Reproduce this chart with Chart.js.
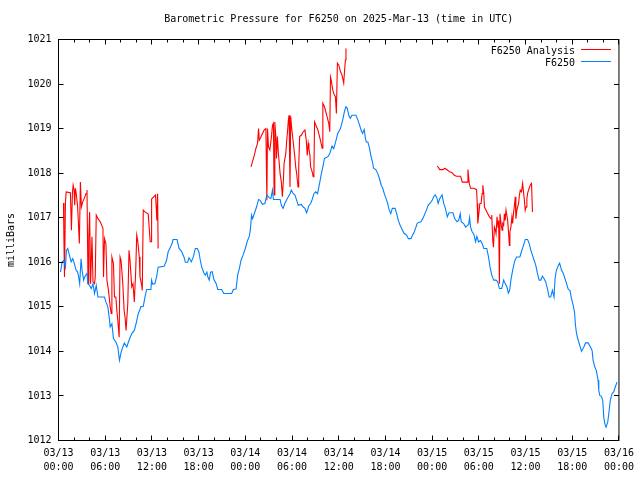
<!DOCTYPE html>
<html><head><meta charset="utf-8">
<script src="https://cdn.jsdelivr.net/npm/chart.js@4.4.1/dist/chart.umd.min.js"></script>
<style>html,body{margin:0;padding:0;background:#fff}canvas{display:block}</style>
</head><body>
<canvas id="c" width="640" height="480"></canvas>
<script>
// ---- DATA (hours since 2025-03-13 00:00 UTC, pressure in mb) ----
const blueHours = [0.26,0.47,0.68,0.89,1.02,1.19,1.40,1.62,1.83,2.04,2.26,2.46,2.59,2.72,2.90,3.03,3.23,3.36,3.66,3.79,4.00,4.21,4.43,4.63,4.85,5.07,5.91,6.09,6.34,6.51,6.64,6.86,7.06,7.37,7.62,7.83,8.04,8.26,8.46,8.77,9.06,9.41,9.74,9.96,10.25,10.47,
10.56,10.89,11.11,11.32,11.87,11.96,12.09,12.38,12.60,12.80,13.57,13.88,14.08,14.30,14.59,14.72,15.23,15.49,15.79,16.12,16.30,16.60,16.76,17.07,17.32,17.58,17.83,18.04,18.22,18.42,18.68,18.85,19.06,19.19,19.37,19.53,19.75,19.95,20.26,20.46,20.97,21.23,22.25,22.47,22.81,23.02,23.23,23.45,23.71,24.00,24.29,24.51,
24.64,24.80,24.93,25.15,25.44,25.70,25.91,26.21,26.52,26.77,27.06,27.28,27.49,27.61,28.47,28.63,28.85,29.07,29.40,29.74,29.91,30.17,30.38,30.60,30.80,31.19,31.44,31.66,31.88,32.17,32.39,32.59,32.81,33.03,33.28,33.54,33.74,33.96,34.17,34.60,34.85,35.14,35.36,35.66,35.87,36.22,36.51,
36.73,36.93,37.11,37.28,37.49,37.70,38.21,38.46,38.68,38.90,39.06,39.28,39.41,39.54,39.74,39.96,40.12,40.34,40.47,40.76,41.02,41.23,41.45,41.66,41.87,42.09,42.29,42.47,42.68,42.89,43.24,43.44,43.66,43.88,44.08,44.39,44.72,44.94,45.28,45.49,45.70,45.92,46.09,46.56,46.85,47.27,47.49,47.71,48.00,48.22,48.42,48.64,48.77,
48.98,49.28,49.49,49.70,49.95,50.17,50.68,50.90,51.19,51.41,51.61,51.74,52.05,52.30,52.69,52.81,52.94,53.15,53.36,53.58,53.74,53.96,54.22,54.42,54.64,55.02,55.24,55.44,55.66,55.91,56.21,56.43,56.64,56.94,57.19,57.41,57.61,57.79,57.96,58.12,58.34,58.63,58.85,59.27,59.53,59.74,59.96,60.26,60.47,
60.68,60.89,61.11,61.32,61.53,61.75,61.96,62.17,62.39,62.59,62.81,63.03,63.23,63.45,63.66,63.79,63.96,64.21,64.38,64.63,64.85,65.07,65.27,65.49,65.71,65.91,66.13,66.29,66.42,66.55,66.77,66.98,67.19,67.49,67.70,68.04,68.34,68.55,68.68,68.90,69.10,69.32,69.41,69.54,69.74,69.92,70.05,70.21,70.34,70.56,70.69,70.89,71.11,71.32,71.53,71.75];
const blueValues = [1015.78,1016.01,1016.04,1015.89,1016.27,1016.31,1016.16,1016.01,1016.08,1015.97,1015.82,1015.78,1015.67,1015.52,1016.08,1015.82,1015.60,1015.67,1015.75,1015.52,1015.48,1015.41,1015.52,1015.30,1015.48,1015.22,1015.22,1015.11,1015.00,1014.77,1014.55,1014.62,1014.29,1014.21,1014.10,1013.80,1013.98,1014.10,1014.19,1014.10,1014.25,1014.40,1014.47,1014.62,1014.85,1014.94,
1015.00,1015.01,1015.22,1015.39,1015.39,1015.60,1015.51,1015.52,1015.67,1015.89,1015.91,1016.04,1016.23,1016.31,1016.42,1016.51,1016.51,1016.31,1016.25,1016.12,1016.00,1016.00,1016.10,1016.01,1016.12,1016.31,1016.31,1016.23,1016.04,1015.88,1015.76,1015.71,1015.78,1015.67,1015.60,1015.78,1015.79,1015.62,1015.52,1015.39,1015.39,1015.30,1015.30,1015.39,1015.40,1015.71,1015.86,1016.04,1016.16,1016.31,1016.49,1016.58,
1016.72,1017.06,1016.98,1017.09,1017.24,1017.41,1017.39,1017.30,1017.32,1017.51,1017.45,1017.43,1017.62,1017.41,1017.41,1017.28,1017.21,1017.32,1017.43,1017.54,1017.62,1017.54,1017.51,1017.39,1017.28,1017.30,1017.24,1017.21,1017.11,1017.27,1017.32,1017.41,1017.54,1017.58,1017.54,1017.77,1017.96,1018.14,1018.33,1018.37,1018.44,1018.61,1018.55,1018.74,1018.89,1019.00,1019.19,
1019.38,1019.49,1019.45,1019.30,1019.23,1019.30,1019.30,1019.19,1019.08,1018.95,1018.89,1018.98,1018.80,1018.70,1018.70,1018.56,1018.40,1018.25,1018.11,1018.08,1017.99,1017.88,1017.73,1017.66,1017.53,1017.43,1017.32,1017.18,1017.09,1017.21,1017.21,1017.09,1016.94,1016.83,1016.76,1016.65,1016.61,1016.53,1016.53,1016.61,1016.68,1016.79,1016.88,1016.91,1017.00,1017.17,1017.28,1017.32,1017.39,1017.48,1017.51,1017.43,1017.32,
1017.43,1017.51,1017.32,1017.21,1017.02,1017.11,1017.11,1016.98,1016.91,1016.94,1017.09,1016.91,1016.87,1016.79,1016.85,1017.00,1016.79,1016.68,1016.63,1016.46,1016.58,1016.46,1016.49,1016.42,1016.31,1016.31,1016.12,1015.89,1015.71,1015.60,1015.60,1015.56,1015.41,1015.41,1015.60,1015.51,1015.45,1015.31,1015.37,1015.60,1015.82,1016.04,1016.12,1016.12,1016.27,1016.38,1016.51,1016.51,1016.42,
1016.27,1016.16,1016.04,1015.93,1015.75,1015.60,1015.60,1015.69,1015.63,1015.56,1015.41,1015.22,1015.22,1015.37,1015.22,1015.63,1015.82,1015.93,1015.98,1015.82,1015.75,1015.63,1015.52,1015.39,1015.37,1015.18,1015.03,1014.88,1014.58,1014.40,1014.25,1014.13,1014.00,1014.10,1014.19,1014.19,1014.10,1014.02,1013.80,1013.65,1013.57,1013.35,1013.12,1013.01,1012.99,1012.90,1012.52,1012.36,1012.30,1012.41,1012.60,1012.90,1013.05,1013.09,1013.20,1013.31];

const red1Hours = [0.64,0.70,0.77,0.89,0.98,1.53,1.66,1.79,1.88,2.00,2.08,2.17,2.30,2.46,2.68,2.81,2.94,3.10,3.32,3.54,3.66,3.79,3.89,4.00,4.12,4.30,4.43,4.63,4.72,4.85,5.07,5.36,5.71,5.78,5.91,6.09,6.22,6.42,6.64,6.77,6.86,7.06,7.19,7.37,7.49,7.62,7.79,7.91,8.04,8.26,8.43,8.55,8.68,8.90,9.06,9.19,9.41,9.57,9.74,9.92,10.05,10.17,10.38,10.47,10.69,10.76,10.89,11.11,11.53,11.66,11.78,11.90,11.96,12.29,12.47,12.64,12.73,12.80];
const red1Values = [1017.33,1016.46,1015.67,1017.32,1017.58,1017.56,1016.72,1017.56,1017.73,1017.62,1017.28,1017.66,1017.51,1017.24,1016.42,1017.80,1017.24,1017.35,1017.44,1017.54,1017.62,1015.52,1016.57,1017.13,1015.52,1016.57,1015.56,1015.52,1015.67,1017.06,1016.98,1016.91,1016.76,1015.67,1016.53,1016.42,1015.60,1015.37,1015.00,1014.85,1016.12,1015.97,1015.22,1015.22,1014.92,1014.70,1014.32,1016.12,1016.04,1015.52,1014.92,1014.77,1014.47,1015.07,1016.27,1016.04,1015.45,1015.52,1015.11,1015.82,1016.61,1016.49,1016.12,1015.67,1015.48,1015.37,1017.17,1017.13,1017.08,1016.76,1016.46,1016.46,1017.42,1017.48,1017.51,1016.94,1017.54,1016.31];

const red2Hours = [24.73,25.15,25.37,25.57,25.70,25.79,25.91,26.21,26.43,26.64,26.77,26.85,26.98,27.15,27.36,27.49,27.61,27.70,27.79,27.92,28.00,28.12,28.25,28.47,28.63,28.76,28.89,28.98,29.20,29.32,29.40,29.53,29.62,29.74,29.83,29.96,30.13,30.34,30.47,30.60,30.68,30.77,30.86,30.98,31.19,31.44,31.66,31.83,31.96,32.08,32.17,32.30,32.39,32.59,32.72,32.81,32.90,33.15,33.32,33.54,33.74,33.87,33.96,34.17,34.50,34.72,34.85,34.94,35.04,35.23,35.36,35.58,35.70,35.83,36.00,36.22,36.42,36.64,36.77,36.86,36.93];
const red2Values = [1018.14,1018.40,1018.56,1018.67,1019.00,1018.74,1018.78,1018.89,1018.97,1019.00,1017.39,1019.00,1018.59,1018.52,1018.82,1019.08,1019.12,1017.51,1019.15,1018.82,1018.33,1018.82,1018.44,1017.99,1017.80,1017.47,1017.84,1018.22,1018.44,1018.74,1018.89,1019.19,1019.30,1017.69,1019.27,1019.00,1018.74,1018.40,1018.14,1017.99,1017.84,1017.69,1018.14,1018.82,1018.85,1018.93,1018.97,1018.74,1018.40,1018.67,1018.56,1018.40,1018.14,1018.03,1017.92,1018.03,1019.15,1019.04,1018.97,1018.82,1018.67,1018.56,1019.57,1019.49,1019.27,1019.12,1018.93,1020.16,1020.09,1019.87,1019.79,1019.71,1019.34,1020.47,1020.43,1020.28,1020.20,1020.02,1020.35,1020.54,1020.80];

const red3Hours = [48.68,48.98,49.40,49.62,49.95,50.26,50.55,50.81,51.10,51.66,51.87,52.51,52.60,52.69,52.77,52.94,53.36,53.71,53.79,53.87,54.00,54.13,54.29,54.42,54.51,54.64,54.72,54.93,55.15,55.36,55.57,55.66,55.79,55.88,56.00,56.13,56.21,56.34,56.47,56.55,56.64,56.72,56.85,56.98,57.07,57.19,57.28,57.38,57.49,57.61,57.70,57.83,57.92,57.99,58.12,58.25,58.34,58.47,58.55,58.68,58.76,58.89,58.98,59.11,59.19,59.32,59.49,59.62,59.74,59.83,59.96,60.06,60.17,60.26,60.38,60.47,60.60,60.77,60.89];
const red3Values = [1018.16,1018.08,1018.08,1018.11,1018.07,1018.03,1018.01,1017.96,1017.93,1017.93,1017.80,1017.80,1018.08,1017.92,1017.77,1017.66,1017.66,1017.63,1017.32,1016.87,1017.09,1017.32,1017.32,1017.54,1017.73,1017.54,1017.24,1017.17,1017.09,1017.02,1016.98,1017.06,1016.49,1016.34,1016.79,1016.72,1016.64,1017.02,1016.79,1016.94,1015.52,1017.09,1016.87,1016.72,1016.87,1016.83,1017.09,1016.94,1017.17,1017.17,1016.94,1016.64,1016.38,1016.68,1016.79,1017.02,1016.87,1017.13,1017.24,1017.47,1016.98,1017.17,1017.24,1017.32,1017.47,1017.62,1017.58,1017.77,1017.58,1017.43,1017.17,1017.24,1017.43,1017.54,1017.62,1017.66,1017.73,1017.77,1017.13];

const xTickDays  = ['03/13','03/13','03/13','03/13','03/14','03/14','03/14','03/14','03/15','03/15','03/15','03/15','03/16'];
const xTickTimes = ['00:00','06:00','12:00','18:00','00:00','06:00','12:00','18:00','00:00','06:00','12:00','18:00','00:00'];
const yTickValues = [1012,1013,1014,1015,1016,1017,1018,1019,1020,1021];
const seriesNames = ['F6250 Analysis','F6250'];
const seriesColors = ['#ff0000','#0080ff'];
const titleText = 'Barometric Pressure for F6250 on 2025-Mar-13 (time in UTC)';

// ---- BUILD ----
const FONT = "'DejaVu Sans Mono', monospace";
function pts(h, v) { return h.map((x, i) => ({x: x, y: v[i]})); }
const redData = [].concat(pts(red1Hours, red1Values), [{x: 18, y: null}],
                          pts(red2Hours, red2Values), [{x: 42, y: null}],
                          pts(red3Hours, red3Values));
const blueData = pts(blueHours, blueValues);

const framePlugin = {
  id: 'frame',
  afterDraw(chart) {
    const {ctx, chartArea: a, scales: {x, y}} = chart;
    ctx.save();
    ctx.strokeStyle = '#000';
    ctx.lineWidth = 1;
    ctx.strokeRect(a.left, a.top, a.right - a.left, a.bottom - a.top);
    ctx.beginPath();
    for (let h = 0; h <= 72; h += 2) {
      const px = Math.floor(x.getPixelForValue(h)) + 0.5;
      const len = (h % 6 === 0) ? 5 : 3;
      ctx.moveTo(px, a.bottom); ctx.lineTo(px, a.bottom - len);
      ctx.moveTo(px, a.top); ctx.lineTo(px, a.top + len);
    }
    yTickValues.forEach(v => {
      const py = Math.floor(y.getPixelForValue(v)) + 0.5;
      ctx.moveTo(a.left, py); ctx.lineTo(a.left + 5, py);
      ctx.moveTo(a.right, py); ctx.lineTo(a.right - 5, py);
    });
    ctx.stroke();
    // legend
    ctx.font = '10px ' + FONT;
    ctx.fillStyle = '#000';
    ctx.textAlign = 'right';
    ctx.textBaseline = 'middle';
    const rows = [51, 63];
    seriesNames.forEach((n, i) => {
      ctx.fillText(n, 575, rows[i]);
      ctx.beginPath();
      ctx.strokeStyle = seriesColors[i];
      ctx.moveTo(581, rows[i] - 1.5); ctx.lineTo(611, rows[i] - 1.5);
      ctx.stroke();
    });
    ctx.restore();
  }
};

new Chart(document.getElementById('c'), {
  type: 'line',
  data: {
    datasets: [
      {label: seriesNames[0], data: redData, borderColor: seriesColors[0], borderWidth: 1.1, pointRadius: 0, tension: 0, spanGaps: false, order: 2},
      {label: seriesNames[1], data: blueData, borderColor: seriesColors[1], borderWidth: 1.1, pointRadius: 0, tension: 0, order: 1}
    ]
  },
  options: {
    responsive: false,
    animation: false,
    events: [],
    layout: {padding: {top: 0, right: 18.5, bottom: 0, left: 0}},
    plugins: {
      legend: {display: false},
      tooltip: {enabled: false},
      title: {
        display: true, text: titleText, fullSize: false, color: '#000',
        font: {family: FONT, size: 10, weight: 'normal', lineHeight: 1.2},
        padding: {top: 13.25, bottom: 14.25}
      }
    },
    scales: {
      x: {
        type: 'linear', min: 0, max: 72,
        grid: {display: false, drawTicks: false},
        border: {display: false},
        ticks: {
          stepSize: 6, autoSkip: false, maxRotation: 0, padding: 6, color: '#000',
          font: {family: FONT, size: 10, lineHeight: 1.4},
          callback: (v) => { const i = Math.round(v / 6); return [xTickDays[i], xTickTimes[i]]; }
        },
        afterFit(s) { s.height = 39.5; }
      },
      y: {
        min: 1012, max: 1021,
        grid: {display: false, drawTicks: false},
        border: {display: false},
        ticks: {
          stepSize: 1, padding: 7, color: '#000',
          font: {family: FONT, size: 10},
          callback: (v) => String(v)
        },
        title: {display: true, text: 'milliBars', color: '#000', font: {family: FONT, size: 10, lineHeight: 1.2}, padding: {top: 5, bottom: 0}},
        afterFit(s) { s.width = 58.5; }
      }
    }
  },
  plugins: [framePlugin]
});
</script>
</body></html>
